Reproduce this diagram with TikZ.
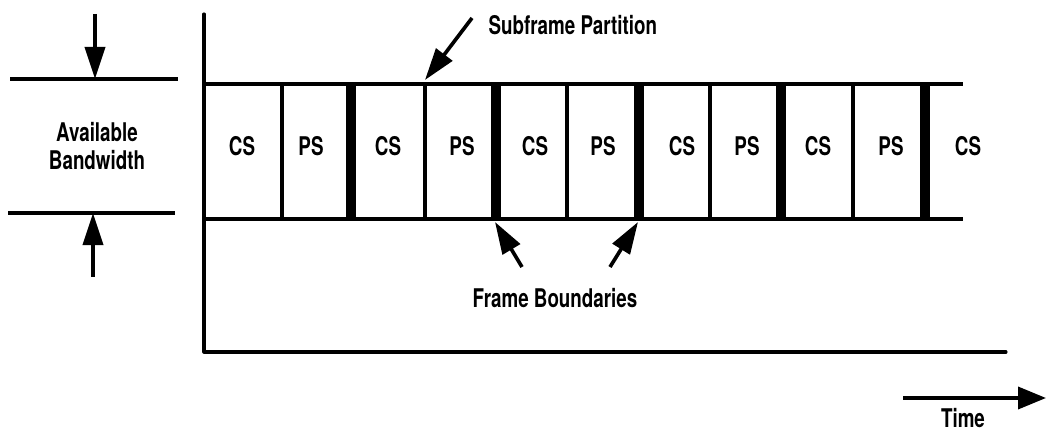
\documentclass[tikz,border=0pt]{standalone}
\usepackage{fontspec}
\setmainfont[FakeStretch=0.73]{TeX Gyre Heros}
\usetikzlibrary{arrows.meta}

\begin{document}
\begin{tikzpicture}[x=0.025cm, y=-0.025cm, line width=2.2pt,
    lbl/.style={font=\bfseries\fontsize{18.3}{20}\selectfont, inner sep=0pt, align=center},
    bigarrow/.style={-{Triangle[length=0.8cm, width=0.5cm]}, line width=2.6pt}]
        \useasboundingbox (0,0) rectangle (1046,431);
        % axes
        \coordinate (ytop) at (204,14);
        \coordinate (origin) at (204,352);
        \coordinate (xend) at (1006,352);
        \draw[line cap=round, line join=round] (ytop) -- (origin) -- (xend);
        % band of subframes
        \draw (204,84) -- (963,84);
        \draw (204,219) -- (963,219);
        \foreach \x in {282,425,567,710,853}
            \draw[line width=2.8pt] (\x,84) -- (\x,219);
        \foreach \x in {351,496,639,781,925}
            \draw[line width=7pt] (\x,84) -- (\x,219);
        \foreach \x/\t [count=\i] in {242/CS,311/PS,388/CS,462/PS,535/CS,603/PS,682/CS,747/PS,818/CS,891/PS,968/CS}
            \node[lbl] (slot\i) at (\x,146) {\t};
        % available bandwidth
        \draw (10,79) -- (178,79);
        \draw (8,213) -- (175,213);
        \coordinate (bwtop) at (95,79);
        \coordinate (bwbot) at (93,213);
        \draw[bigarrow] (95,14) -- (bwtop);
        \draw[bigarrow] (93,277) -- (bwbot);
        \node[lbl] (bw) at (97,146) {Available\\Bandwidth};
        % subframe partition
        \node[lbl, anchor=west] (sub) at (487,25) {Subframe Partition};
        \coordinate (subtip) at (425,80);
        \draw[bigarrow] (472,18) -- (subtip);
        % frame boundaries
        \node[lbl] (frame) at (555,298) {Frame Boundaries};
        \coordinate (fb1) at (495,222);
        \coordinate (fb2) at (638,222);
        \draw[bigarrow] (522,267) -- (fb1);
        \draw[bigarrow] (610,267) -- (fb2);
        % time
        \node[lbl] (time) at (963,418) {Time};
        \coordinate (timetip) at (1046,398);
        \draw[-{Triangle[length=0.7cm, width=0.55cm]}, line width=2.6pt] (903,398) -- (timetip);
    \end{tikzpicture}
\end{document}
